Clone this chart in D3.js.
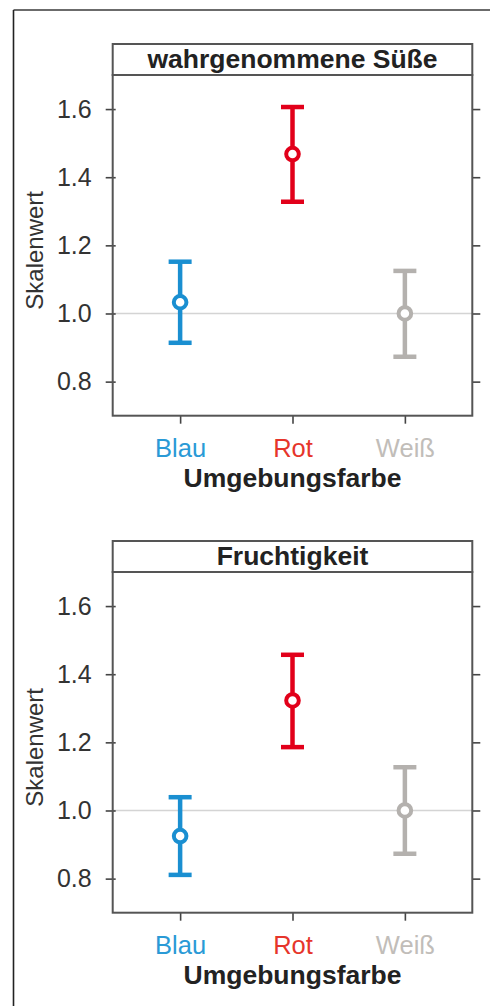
<!DOCTYPE html>
<html>
<head>
<meta charset="utf-8">
<script src="https://cdn.jsdelivr.net/npm/d3@7"></script>
<style>
  html, body { margin: 0; padding: 0; background: #fff; }
  svg { display: block; font-family: "Liberation Sans", Arial, sans-serif; }
</style>
</head>
<body>
<svg id="chart" width="490" height="1006"></svg>
<script>
// Categories (surrounding colour) and panel titles
const categories = ["Blau", "Rot", "Weiß"];
const panelTitles = ["wahrgenommene Süße", "Fruchtigkeit"];

// Perceived sweetness: mean and confidence interval per colour
const sweetMean  = [1.033, 1.468, 1.000];
const sweetLower = [0.914, 1.328, 0.873];
const sweetUpper = [1.152, 1.606, 1.125];

// Fruitiness: mean and confidence interval per colour
const fruitMean  = [0.925, 1.323, 1.000];
const fruitLower = [0.811, 1.186, 0.873];
const fruitUpper = [1.039, 1.457, 1.127];

const yTicks = [0.8, 1.0, 1.2, 1.4, 1.6];
const yLabel = "Skalenwert";
const xLabel = "Umgebungsfarbe";

const markColor  = { "Blau": "#1a8fd1", "Rot": "#e2001a", "Weiß": "#b4b1ae" };
const labelColor = { "Blau": "#2a9ad6", "Rot": "#e6352b", "Weiß": "#c1bdb9" };

const panels = [
  { title: panelTitles[0], mean: sweetMean, lower: sweetLower, upper: sweetUpper },
  { title: panelTitles[1], mean: fruitMean, lower: fruitLower, upper: fruitUpper }
];

const svg = d3.select("#chart");

// outer frame: top and left rules
svg.append("line").attr("x1", 13.5).attr("x2", 490).attr("y1", 10).attr("y2", 10)
  .attr("stroke", "#3a3a3a").attr("stroke-width", 1.6);
svg.append("line").attr("x1", 13.5).attr("x2", 13.5).attr("y1", 10).attr("y2", 1006)
  .attr("stroke", "#222").attr("stroke-width", 1.6);

const plotLeft = 112.7, plotRight = 472.3;
const stripH = 31, plotH = 340.7, panelGap = 497;

const x = d3.scalePoint().domain(categories).range([plotLeft, plotRight]).padding(0.6);

panels.forEach((p, i) => {
  const top = 44 + i * panelGap;          // top of strip
  const pTop = top + stripH;              // top of plot region
  const pBottom = pTop + plotH;
  const y = d3.scaleLinear().domain([0.7, 1.7]).range([pBottom, pTop]);
  const g = svg.append("g");

  // reference line at 1.0
  g.append("line")
    .attr("x1", plotLeft).attr("x2", plotRight)
    .attr("y1", y(1)).attr("y2", y(1))
    .attr("stroke", "#d4d4d4").attr("stroke-width", 1.5);

  // left axis
  const left = g.append("g").attr("transform", `translate(${plotLeft},0)`)
    .call(d3.axisLeft(y).tickValues(yTicks).tickFormat(d3.format(".1f")).tickSize(7).tickPadding(14));
  left.select(".domain").remove();
  left.selectAll(".tick line").attr("stroke", "#444").attr("stroke-width", 1.6).attr("x2", 3).attr("x1", -7);
  left.selectAll(".tick text").attr("font-size", 25).attr("fill", "#333");

  // right ticks
  const right = g.append("g").attr("transform", `translate(${plotRight},0)`)
    .call(d3.axisRight(y).tickValues(yTicks).tickSize(8).tickFormat(""));
  right.select(".domain").remove();
  right.selectAll(".tick line").attr("stroke", "#444").attr("stroke-width", 1.6);

  // bottom axis
  const bottom = g.append("g").attr("transform", `translate(0,${pBottom})`)
    .call(d3.axisBottom(x).tickSize(8).tickPadding(14));
  bottom.select(".domain").remove();
  bottom.selectAll(".tick line").attr("stroke", "#444").attr("stroke-width", 1.6);
  bottom.selectAll(".tick text").attr("font-size", 25.5).attr("dy", null)
    .attr("y", 41).attr("fill", d => labelColor[d]);

  // plot border
  g.append("rect").attr("x", plotLeft).attr("y", pTop)
    .attr("width", plotRight - plotLeft).attr("height", plotH)
    .attr("fill", "none").attr("stroke", "#555").attr("stroke-width", 2);

  // strip with title
  g.append("rect").attr("x", plotLeft).attr("y", top)
    .attr("width", plotRight - plotLeft).attr("height", stripH)
    .attr("fill", "#fff").attr("stroke", "#555").attr("stroke-width", 2);
  g.append("text").attr("x", (plotLeft + plotRight) / 2).attr("y", top + 23.5)
    .attr("text-anchor", "middle").attr("font-size", 26.5).attr("font-weight", "bold")
    .attr("fill", "#222").text(p.title);

  // axis titles
  g.append("text").attr("x", (plotLeft + plotRight) / 2).attr("y", pBottom + 71.5)
    .attr("text-anchor", "middle").attr("font-size", 26.5).attr("font-weight", "bold")
    .attr("fill", "#222").text(xLabel);
  g.append("text")
    .attr("transform", `translate(43,${(pTop + pBottom) / 2 + 5}) rotate(-90)`)
    .attr("text-anchor", "middle").attr("font-size", 24).attr("fill", "#333").text(yLabel);

  // error bars
  const rows = categories.map((c, k) => ({ c, m: p.mean[k], lo: p.lower[k], hi: p.upper[k] }));
  const capW = 11.5;
  const eb = g.selectAll(".eb").data(rows).join("g").attr("class", "eb")
    .attr("stroke", d => markColor[d.c]).attr("stroke-width", 4.5).attr("fill", "none");
  eb.append("line").attr("x1", d => x(d.c)).attr("x2", d => x(d.c))
    .attr("y1", d => y(d.lo)).attr("y2", d => y(d.hi));
  eb.append("line").attr("x1", d => x(d.c) - capW).attr("x2", d => x(d.c) + capW)
    .attr("y1", d => y(d.hi)).attr("y2", d => y(d.hi));
  eb.append("line").attr("x1", d => x(d.c) - capW).attr("x2", d => x(d.c) + capW)
    .attr("y1", d => y(d.lo)).attr("y2", d => y(d.lo));
  eb.append("circle").attr("cx", d => x(d.c)).attr("cy", d => y(d.m)).attr("r", 6.3)
    .attr("fill", "#fff").attr("stroke-width", 4);
});
</script>
</body>
</html>
